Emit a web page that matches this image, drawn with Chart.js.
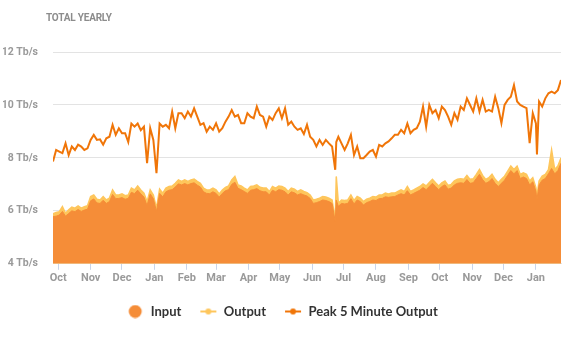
<!DOCTYPE html>
<html>
<head>
<meta charset="utf-8">
<script src="https://cdn.jsdelivr.net/npm/chart.js@4.4.1/dist/chart.umd.min.js"></script>
<style>
  html, body { margin: 0; padding: 0; background: #fff; }
  #wrap { position: relative; width: 581px; height: 340px; }
  #title {
    position: absolute; left: 46px; top: 12px;
    font: bold 10px Roboto, sans-serif; color: #8c8c8c; letter-spacing: -0.2px;
  }
</style>
</head>
<body>
<div id="wrap">
  <div id="title">TOTAL YEARLY</div>
  <canvas id="traffic" width="581" height="340"></canvas>
</div>
<script>
// day offsets from Sep 26 (first sample)
const days = [
  0, 3, 6, 9, 12, 15, 18, 21, 24, 27, 30, 33, 36, 39, 42, 45, 48, 51, 54, 57,
  60, 63, 66, 69, 72, 75, 78, 81, 84, 87, 90, 93, 96, 99, 102, 105, 108, 111, 114, 117,
  120, 123, 126, 129, 132, 135, 138, 141, 144, 147, 150, 153, 156, 159, 162, 165, 168, 171, 174, 177,
  180, 183, 186, 189, 192, 195, 198, 201, 204, 207, 210, 213, 216, 219, 222, 225, 228, 231, 234, 237,
  240, 243, 246, 249, 252, 255, 258, 261, 264, 267, 270, 271, 273, 276, 279, 282, 285, 288, 291, 294,
  297, 300, 303, 306, 309, 312, 315, 318, 321, 324, 327, 330, 333, 336, 339, 342, 345, 348, 351, 354,
  357, 360, 363, 366, 369, 372, 375, 378, 381, 384, 387, 390, 393, 396, 399, 402, 405, 408, 411, 414,
  417, 420, 423, 426, 429, 432, 435, 438, 441, 444, 447, 450, 453, 456, 459, 462, 463, 465, 468, 471,
  474, 477, 480, 483, 486
];

const inputTbps = [
  5.78, 5.80, 5.84, 5.98, 5.80, 5.90, 6.00, 5.97, 6.05, 5.98, 6.03, 6.06, 6.38, 6.45, 6.30, 6.28, 6.40, 6.28, 6.35, 6.62,
  6.46, 6.47, 6.50, 6.44, 6.47, 6.70, 6.65, 6.78, 6.64, 6.52, 6.20, 6.64, 6.46, 5.98, 6.66, 6.53, 6.72, 6.78, 6.80, 6.90,
  7.02, 6.98, 7.03, 6.98, 7.03, 7.06, 6.97, 6.90, 6.72, 6.66, 6.65, 6.72, 6.66, 6.52, 6.66, 6.76, 6.80, 7.00, 7.08, 6.85,
  6.80, 6.73, 6.66, 6.78, 6.80, 6.84, 6.76, 6.72, 6.72, 6.60, 6.78, 6.72, 6.80, 6.78, 6.72, 6.60, 6.72, 6.68, 6.60, 6.65,
  6.60, 6.56, 6.47, 6.28, 6.31, 6.35, 6.41, 6.39, 6.35, 6.28, 5.60, 6.40, 6.17, 6.28, 6.26, 6.28, 6.46, 6.26, 6.41, 6.35,
  6.22, 6.31, 6.35, 6.41, 6.39, 6.46, 6.47, 6.53, 6.51, 6.53, 6.54, 6.60, 6.65, 6.60, 6.76, 6.60, 6.66, 6.72, 6.78, 6.88,
  6.80, 6.92, 7.04, 6.92, 6.80, 6.92, 6.98, 6.82, 6.86, 6.98, 7.04, 7.06, 7.04, 7.18, 7.04, 7.06, 7.22, 7.38, 7.18, 7.04,
  7.10, 7.22, 7.04, 6.92, 7.04, 7.16, 7.34, 7.52, 7.40, 7.52, 7.22, 7.28, 7.22, 6.98, 7.10, 6.74, 6.42, 6.98, 7.16, 7.22,
  7.40, 7.60, 7.40, 7.52, 7.80
];

const outputTbps = [
  5.89, 5.94, 5.97, 6.16, 5.91, 6.04, 6.14, 6.10, 6.19, 6.10, 6.16, 6.19, 6.54, 6.60, 6.44, 6.41, 6.54, 6.41, 6.48, 6.79,
  6.60, 6.60, 6.64, 6.57, 6.60, 6.86, 6.79, 6.94, 6.79, 6.67, 6.35, 6.79, 6.60, 6.10, 6.82, 6.67, 6.86, 6.92, 6.94, 7.04,
  7.17, 7.11, 7.17, 7.11, 7.17, 7.20, 7.11, 7.04, 6.86, 6.79, 6.79, 6.86, 6.79, 6.64, 6.79, 6.89, 6.94, 7.17, 7.30, 6.98,
  6.94, 6.86, 6.79, 6.92, 6.94, 6.98, 6.89, 6.86, 6.86, 6.73, 6.92, 6.86, 6.94, 6.92, 6.86, 6.73, 6.86, 6.82, 6.73, 6.79,
  6.73, 6.69, 6.60, 6.41, 6.44, 6.48, 6.54, 6.52, 6.48, 6.41, 5.66, 7.30, 6.29, 6.41, 6.39, 6.41, 6.60, 6.39, 6.54, 6.48,
  6.35, 6.44, 6.48, 6.54, 6.52, 6.60, 6.60, 6.67, 6.64, 6.67, 6.67, 6.73, 6.79, 6.73, 6.92, 6.73, 6.79, 6.86, 6.92, 7.02,
  6.94, 7.07, 7.19, 7.06, 6.94, 7.06, 7.13, 6.96, 7.00, 7.13, 7.19, 7.21, 7.19, 7.34, 7.19, 7.21, 7.38, 7.56, 7.34, 7.19,
  7.25, 7.38, 7.19, 7.06, 7.19, 7.31, 7.50, 7.69, 7.56, 7.69, 7.38, 7.44, 7.38, 7.13, 7.25, 6.88, 6.56, 7.13, 7.31, 7.38,
  7.56, 8.31, 7.56, 7.69, 8.00
];

const peakTbps = [
  7.86, 8.30, 8.24, 8.18, 8.55, 8.10, 8.43, 8.30, 8.50, 8.43, 8.30, 8.36, 8.68, 8.87, 8.68, 8.70, 8.50, 8.74, 8.80, 9.25,
  8.87, 9.12, 8.93, 8.93, 8.60, 9.30, 9.18, 9.30, 9.05, 9.18, 7.80, 9.12, 8.68, 7.42, 9.30, 9.18, 9.25, 9.12, 9.75, 9.12,
  9.69, 9.69, 9.50, 9.75, 9.56, 9.87, 9.56, 9.25, 9.31, 8.99, 9.18, 9.06, 9.31, 8.99, 9.12, 9.37, 9.56, 9.81, 9.56, 9.62,
  9.31, 9.31, 9.69, 9.56, 9.50, 9.94, 9.62, 9.56, 9.18, 9.56, 9.43, 9.69, 9.87, 9.50, 9.87, 9.25, 9.37, 9.18, 9.06, 9.12,
  8.90, 9.25, 8.80, 8.68, 8.43, 8.68, 8.49, 8.68, 8.55, 8.43, 7.55, 8.60, 8.80, 8.55, 8.30, 8.55, 8.87, 8.11, 8.43, 7.99,
  7.99, 8.11, 8.24, 8.30, 8.05, 8.49, 8.43, 8.55, 8.62, 8.74, 8.87, 8.87, 9.06, 8.93, 9.30, 8.93, 9.06, 9.12, 9.37, 9.94,
  9.18, 10.00, 9.69, 9.81, 9.50, 9.94, 9.81, 9.56, 9.25, 9.69, 9.44, 9.94, 9.81, 10.25, 10.00, 9.75, 10.25, 9.75, 10.19, 9.75,
  9.81, 9.75, 10.31, 9.88, 9.31, 10.00, 10.19, 10.31, 10.75, 10.13, 10.00, 9.94, 9.88, 8.56, 9.69, 9.30, 8.13, 10.13, 9.94, 10.25,
  10.44, 10.50, 10.44, 10.56, 10.94
];

// first day of each month, same offsets as above
const monthDays = [5, 36, 66, 97, 128, 156, 187, 217, 248, 278, 309, 340, 370, 401, 431, 462];
const monthLabels = ['Oct', 'Nov', 'Dec', 'Jan', 'Feb', 'Mar', 'Apr', 'May', 'Jun', 'Jul', 'Aug', 'Sep', 'Oct', 'Nov', 'Dec', 'Jan'];

const INPUT_COLOR = '#f58d38';
const OUTPUT_COLOR = '#fec65c';
const PEAK_COLOR = '#f07508';

// legend icons: filled dot for the area, line-with-dot for the lines
function iconCanvas(color, withLine) {
    const c = document.createElement('canvas');
    c.width = 18;
    c.height = 14;
    const g = c.getContext('2d');
    g.fillStyle = color;
    g.strokeStyle = color;
    if (withLine) {
        g.lineWidth = 2;
        g.beginPath();
        g.moveTo(1, 7);
        g.lineTo(17, 7);
        g.stroke();
        g.beginPath();
        g.arc(9, 7, 3, 0, Math.PI * 2);
        g.fill();
    } else {
        g.beginPath();
        g.arc(9, 7, 6.5, 0, Math.PI * 2);
        g.fill();
    }
    return c;
}

const toPoints = (values) => values.map((v, i) => ({ x: days[i], y: v }));

const legendIcons = [
    iconCanvas(INPUT_COLOR, false),
    iconCanvas(OUTPUT_COLOR, true),
    iconCanvas(PEAK_COLOR, true)
];

new Chart(document.getElementById('traffic'), {
    type: 'line',
    data: {
        datasets: [
            {
                label: 'Input',
                data: toPoints(inputTbps),
                borderColor: INPUT_COLOR,
                backgroundColor: INPUT_COLOR,
                borderWidth: 1,
                fill: 'start',
                pointRadius: 0
            },
            {
                label: 'Output',
                data: toPoints(outputTbps),
                borderColor: OUTPUT_COLOR,
                backgroundColor: OUTPUT_COLOR,
                borderWidth: 1.5,
                fill: 'start',
                pointRadius: 0
            },
            {
                label: 'Peak 5 Minute Output',
                data: toPoints(peakTbps),
                borderColor: PEAK_COLOR,
                backgroundColor: PEAK_COLOR,
                borderWidth: 2,
                fill: false,
                pointRadius: 0
            }
        ]
    },
    options: {
        responsive: false,
        animation: false,
        layout: {
            padding: { top: 52, left: 3, right: 20, bottom: 12 }
        },
        plugins: {
            tooltip: { enabled: false },
            legend: {
                position: 'bottom',
                labels: {
                    usePointStyle: true,
                    pointStyleWidth: 18,
                    boxHeight: 9,
                    padding: 18,
                    color: '#333',
                    font: { family: 'Lato', weight: 'bold', size: 13 },
                    generateLabels: (chart) => {
                        const items = Chart.defaults.plugins.legend.labels.generateLabels(chart);
                        items.forEach((item, i) => {
                            item.pointStyle = legendIcons[i];
                            item.lineWidth = 0;
                        });
                        return items;
                    }
                }
            }
        },
        scales: {
            x: {
                type: 'linear',
                min: 0,
                max: 486,
                afterBuildTicks: (axis) => {
                    axis.ticks = monthDays.map(v => ({ value: v }));
                },
                grid: {
                    drawOnChartArea: false,
                    drawTicks: true,
                    tickLength: 6,
                    color: '#c9d5ea'
                },
                border: { color: '#dfe3ea', width: 1 },
                ticks: {
                    autoSkip: false,
                    maxRotation: 0,
                    padding: 2,
                    color: '#9a9a9a',
                    font: { family: 'Roboto', weight: 'bold', size: 11 },
                    callback: (v) => monthLabels[monthDays.indexOf(v)]
                }
            },
            y: {
                min: 4,
                max: 12,
                afterFit: (scale) => {
                    scale.width = 50;
                },
                grid: {
                    color: '#e3e3e3',
                    drawTicks: false
                },
                border: { display: false },
                ticks: {
                    stepSize: 2,
                    padding: 15,
                    color: '#9a9a9a',
                    font: { family: 'Roboto', weight: 'bold', size: 10.5 },
                    callback: (v) => v + ' Tb/s'
                }
            }
        }
    }
});
</script>
</body>
</html>
